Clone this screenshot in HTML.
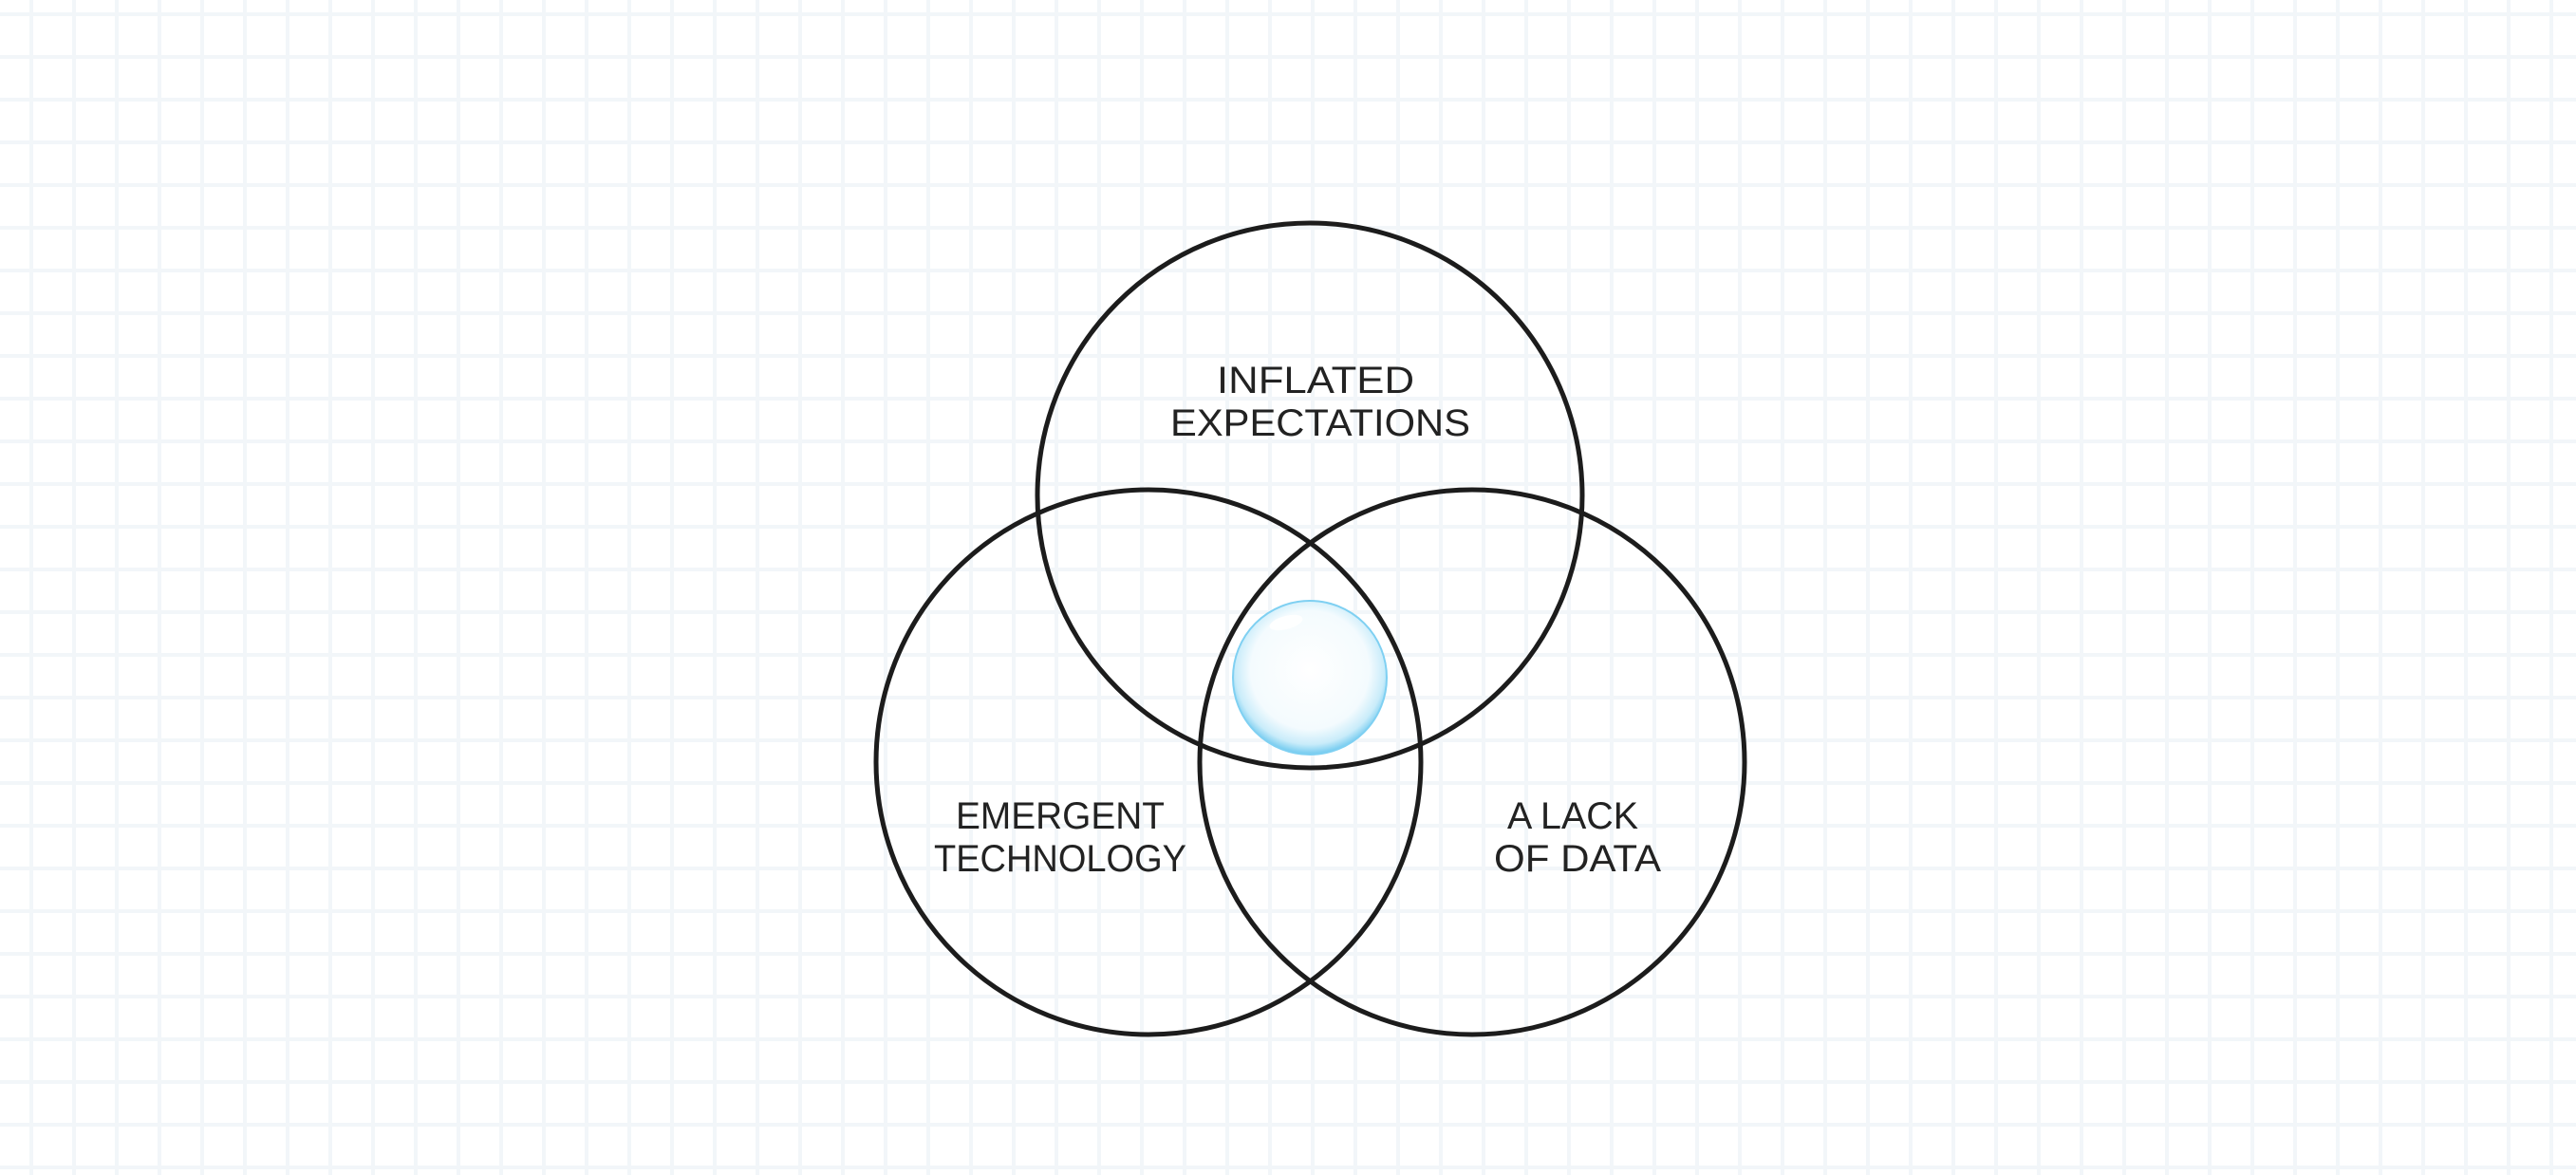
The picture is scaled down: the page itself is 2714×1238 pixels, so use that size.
<!DOCTYPE html>
<html><head><meta charset="utf-8"><style>
html,body{margin:0;padding:0;background:#fff;}
svg{display:block;}
</style></head><body>
<svg width="2714" height="1238" viewBox="0 0 2714 1238" xmlns="http://www.w3.org/2000/svg">
<defs>
<pattern id="g" x="31" y="13" width="45" height="45" patternUnits="userSpaceOnUse">
<rect x="0" y="0" width="4" height="45" fill="#f2f6f9"/>
<rect x="0" y="0" width="45" height="4" fill="#f2f6f9"/>
</pattern>
<radialGradient id="b" cx="0.5" cy="0.45" r="0.55">
<stop offset="0" stop-color="#ffffff"/>
<stop offset="0.7" stop-color="#f4fbfe"/>
<stop offset="0.88" stop-color="#c9ecfa"/>
<stop offset="1" stop-color="#6fc9ef"/>
</radialGradient>
</defs>
<rect width="2714" height="1238" fill="#fff"/>
<rect width="2714" height="1238" fill="url(#g)"/>
<circle cx="1380" cy="714" r="81" fill="url(#b)" stroke="#7fd0f2" stroke-width="2"/>
<ellipse cx="1355" cy="656" rx="18" ry="7" fill="#fff" opacity="0.9" transform="rotate(-15 1355 656)"/>
<g fill="none" stroke="#1c1c1c" stroke-width="5">
<circle cx="1380" cy="522" r="287"/>
<circle cx="1210" cy="803" r="287"/>
<circle cx="1551" cy="803" r="287"/>
</g>
<g font-family="Liberation Sans, sans-serif" font-size="40" fill="#222" text-anchor="middle" lengthAdjust="spacingAndGlyphs">
<text x="1386" y="414" textLength="208" lengthAdjust="spacingAndGlyphs">INFLATED</text>
<text x="1391" y="459" textLength="316" lengthAdjust="spacingAndGlyphs">EXPECTATIONS</text>
<text x="1117" y="873" textLength="220" lengthAdjust="spacingAndGlyphs">EMERGENT</text>
<text x="1117" y="918" textLength="266" lengthAdjust="spacingAndGlyphs">TECHNOLOGY</text>
<text x="1657" y="873" textLength="138" lengthAdjust="spacingAndGlyphs">A LACK</text>
<text x="1662" y="918" textLength="176" lengthAdjust="spacingAndGlyphs">OF DATA</text>
</g>
</svg>
</body></html>
